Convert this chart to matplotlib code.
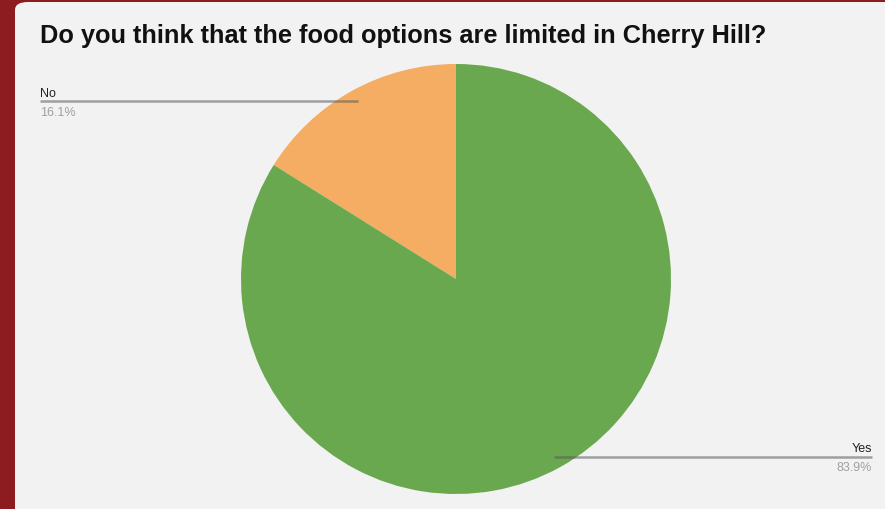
import numpy as np
import matplotlib.pyplot as plt
from matplotlib.patches import FancyBboxPatch

plt.rcParams['font.family'] = ['Liberation Sans', 'DejaVu Sans']

title = "Do you think that the food options are limited in Cherry Hill?"
labels = ["No", "Yes"]
shares = [16.1, 83.9]
colors = ["#f5ad63", "#69a84f"]

W, H = 885, 510
cx, cy, R = 456, 280, 215   # pie centre / radius in pixels

fig = plt.figure(figsize=(W / 100, H / 100), dpi=100)
fig.patch.set_facecolor("#8c1c20")

# light rounded panel
panel = FancyBboxPatch((15 / W, -20 / H), (W + 20) / W - 15 / W, (H - 3 + 20) / H,
                       boxstyle="round,pad=0,rounding_size=0.015",
                       transform=fig.transFigure, facecolor="#f2f2f2",
                       edgecolor="none", zorder=-5)
fig.patches.append(panel)

ax = fig.add_axes([0, 0, 1, 1])
ax.set_zorder(1)
ax.axis("off")
ax.patch.set_alpha(0)

wedges, _ = ax.pie(shares, colors=colors, startangle=90, counterclock=True,
                   radius=1, center=(0, 0), wedgeprops=dict(linewidth=0))
ax.set_aspect("equal")
ax.set_xlim(-cx / R, (W - cx) / R)
ax.set_ylim((cy - H) / R, cy / R)


def px(x, y):
    return (x - cx) / R, (cy - y) / R


fig.text(40 / W, 1 - 36 / H, title, fontsize=18.3, fontweight="bold",
         color="#111111", va="center", ha="left", zorder=3)

# leader lines + labels
label_x = {"No": 40, "Yes": 872}
for w, lab, val in zip(wedges, labels, shares):
    mid = np.deg2rad((w.theta1 + w.theta2) / 2)
    x0, y0 = 0.945 * np.cos(mid), 0.945 * np.sin(mid)
    xe, _ = px(label_x[lab], 0)
    ax.plot([x0, xe], [y0, y0], color="#5a5a5a", alpha=0.55, lw=1.8,
            solid_capstyle="butt", zorder=5)
    ha = "left" if lab == "No" else "right"
    ax.text(xe, y0 + 0.012, lab, fontsize=9, color="#222222", ha=ha, va="bottom")
    ax.text(xe, y0 - 0.02, f"{val:.1f}%", fontsize=9, color="#a0a0a0", ha=ha, va="top")

fig.savefig("out.png", dpi=100, facecolor=fig.get_facecolor())
